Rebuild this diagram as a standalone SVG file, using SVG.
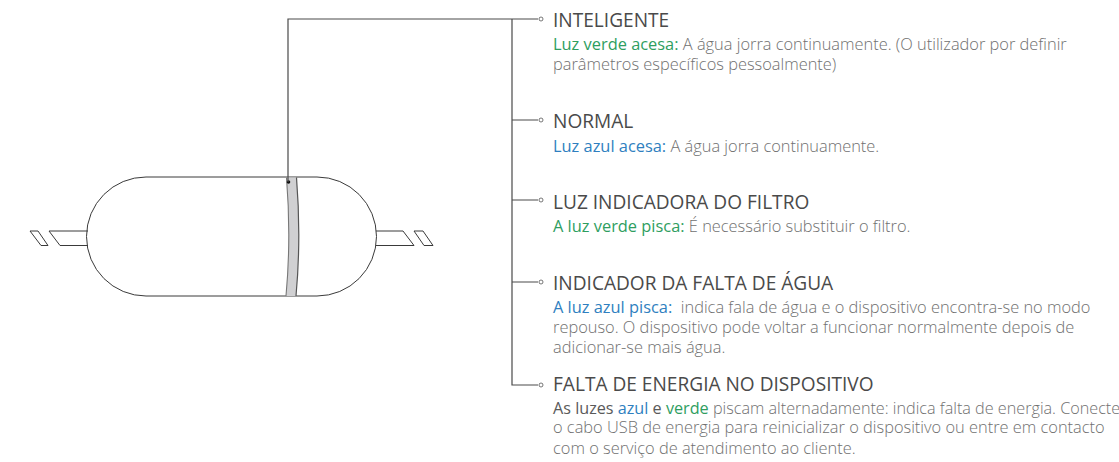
<svg xmlns="http://www.w3.org/2000/svg" width="1119" height="462" viewBox="0 0 1119 462">
<style>
.s{fill:none;stroke:#3a3a3a;stroke-width:1}
.c{fill:none;stroke:#4a4a4a;stroke-width:1.2}
.e{fill:#fff;stroke:#555;stroke-width:.8}
.h{font:400 19.100px "Open Sans",sans-serif;fill:#4a4a4a}
.b{font:300 16.400px "Open Sans",sans-serif;fill:#707070}
.g{fill:#2f9e5f;font-weight:400}
.a{fill:#2f7fc0;font-weight:400}
.d{fill:#5a5a5a;font-weight:400}
</style>
<rect width="1119" height="462" fill="#fff"/>
<g id="device">
<path class="s" d="M146 177H317A59.500 59.500 0 0 1 317 296H146A59.500 59.500 0 0 1 146 177Z"/>
<path d="M286.500 177.500C289.500 215 289.500 258 286 296H296C299.500 258 299.500 215 296.500 177.500Z" fill="#d0d0d2"/>
<path d="M286.500 177.500C289.500 215 289.500 258 286 296" fill="none" stroke="#777" stroke-width="1.100"/>
<path d="M296.500 177.500C299.500 215 299.500 258 296 296" fill="none" stroke="#555" stroke-width="1.200"/>
<circle cx="288.500" cy="182" r="1.800" fill="#111"/>
<path class="s" d="M88 231H49L60 245.500H88M30 231H38L48 245.500H41ZM376 231H403L414 245.500H376M414 231H423L433 245.500H424Z"/>
</g>
<g id="connectors">
<path class="c" d="M288 182V19H538M512 19V385H538M512 120H538M512 200H538M512 282H538"/>
<circle class="e" cx="541" cy="19" r="2"/>
<circle class="e" cx="541" cy="120" r="2"/>
<circle class="e" cx="541" cy="200" r="2"/>
<circle class="e" cx="541" cy="282" r="2"/>
<circle class="e" cx="541" cy="385" r="2"/>
</g>
<g id="item-inteligente">
<text class="h" x="553" y="27">INTELIGENTE</text>
<text class="b" x="553" y="50"><tspan class="g">Luz verde acesa:</tspan> A água jorra continuamente. (O utilizador por definir</text>
<text class="b" x="553" y="70">parâmetros específicos pessoalmente)</text>
</g>
<g id="item-normal">
<text class="h" x="553" y="128">NORMAL</text>
<text class="b" x="553" y="152"><tspan class="a">Luz azul acesa:</tspan> A água jorra continuamente.</text>
</g>
<g id="item-filtro">
<text class="h" x="553" y="209">LUZ INDICADORA DO FILTRO</text>
<text class="b" x="553" y="232"><tspan class="g">A luz verde pisca:</tspan> É necessário substituir o filtro.</text>
</g>
<g id="item-agua">
<text class="h" x="553" y="290">INDICADOR DA FALTA DE ÁGUA</text>
<text class="b" x="553" y="313" xml:space="preserve"><tspan class="a">A luz azul pisca:</tspan>  indica fala de água e o dispositivo encontra-se no modo</text>
<text class="b" x="553" y="333">repouso. O dispositivo pode voltar a funcionar normalmente depois de</text>
<text class="b" x="553" y="353">adicionar-se mais água.</text>
</g>
<g id="item-energia">
<text class="h" x="553" y="391">FALTA DE ENERGIA NO DISPOSITIVO</text>
<text class="b" x="553" y="414" style="font-size:16.200px"><tspan class="d">As luzes</tspan> <tspan class="a">azul</tspan> <tspan class="d">e</tspan> <tspan class="g">verde</tspan> piscam alternadamente: indica falta de energia. Conecte</text>
<text class="b" x="553" y="433">o cabo USB de energia para reinicializar o dispositivo ou entre em contacto</text>
<text class="b" x="553" y="454">com o serviço de atendimento ao cliente.</text>
</g>
</svg>
